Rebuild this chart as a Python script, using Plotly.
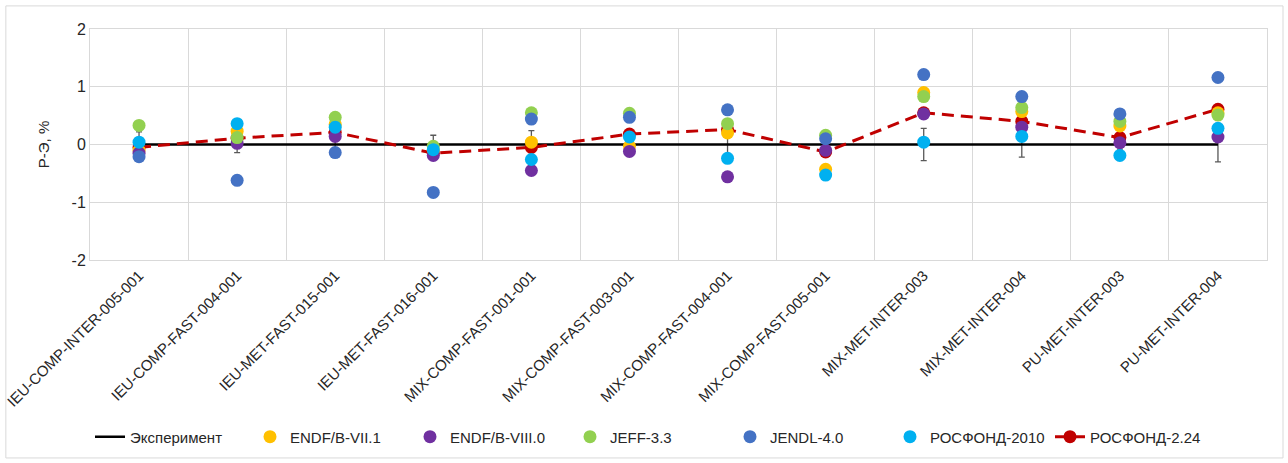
import plotly.graph_objects as go

categories = ["IEU-COMP-INTER-005-001", "IEU-COMP-FAST-004-001", "IEU-MET-FAST-015-001",
              "IEU-MET-FAST-016-001", "MIX-COMP-FAST-001-001", "MIX-COMP-FAST-003-001",
              "MIX-COMP-FAST-004-001", "MIX-COMP-FAST-005-001", "MIX-MET-INTER-003",
              "MIX-MET-INTER-004", "PU-MET-INTER-003", "PU-MET-INTER-004"]

experiment = [0, 0, 0, 0, 0, 0, 0, 0, 0, 0, 0, 0]
exp_error = [0.22, 0.14, 0.08, 0.16, 0.24, 0.08, 0.20, 0.08, 0.28, 0.22, 0.08, 0.30]
endf_b_vii_1 = [-0.10, 0.23, 0.35, -0.10, 0.04, -0.03, 0.20, -0.43, 0.90, 0.57, 0.32, 0.55]
endf_b_viii_0 = [-0.15, 0.02, 0.14, -0.19, -0.45, -0.12, -0.56, -0.10, 0.53, 0.30, 0.03, 0.13]
jeff_3_3 = [0.33, 0.12, 0.47, -0.03, 0.55, 0.54, 0.36, 0.16, 0.83, 0.64, 0.40, 0.51]
jendl_4_0 = [-0.21, -0.62, -0.14, -0.83, 0.44, 0.47, 0.60, 0.10, 1.21, 0.83, 0.53, 1.16]
rosfond_2010 = [0.04, 0.36, 0.30, -0.09, -0.26, 0.13, -0.24, -0.53, 0.04, 0.14, -0.19, 0.28]
rosfond_2_24 = [-0.05, 0.11, 0.21, -0.15, -0.05, 0.18, 0.26, -0.13, 0.55, 0.40, 0.12, 0.61]

y_ticks = [-2, -1, 0, 1, 2]

FONT = "Liberation Sans"
fig = go.Figure()

fig.add_trace(go.Scatter(
    x=categories, y=experiment, mode="lines", name="Эксперимент",
    line=dict(color="black", width=2.5), legendrank=1,
    error_y=dict(type="data", array=exp_error, visible=True, color="#595959",
                 thickness=1.3, width=3)))

fig.add_trace(go.Scatter(
    x=categories, y=rosfond_2_24, mode="lines+markers", name="РОСФОНД-2.24",
    line=dict(color="#C00000", width=3, dash="12px,7px"),
    marker=dict(color="#C00000", size=13), legendrank=7))

series = [
    ("ENDF/B-VII.1", endf_b_vii_1, "#FFC000", 2),
    ("ENDF/B-VIII.0", endf_b_viii_0, "#7030A0", 3),
    ("JEFF-3.3", jeff_3_3, "#92D050", 4),
    ("JENDL-4.0", jendl_4_0, "#4472C4", 5),
    ("РОСФОНД-2010", rosfond_2010, "#00B0F0", 6),
]
for name, vals, color, rank in series:
    fig.add_trace(go.Scatter(
        x=categories, y=vals, mode="markers", name=name,
        marker=dict(color=color, size=13), legendrank=rank))

fig.update_layout(
    width=1288, height=463,
    margin=dict(l=90, r=21, t=29, b=203, autoexpand=False),
    paper_bgcolor="white", plot_bgcolor="white",
    font=dict(family=FONT, size=15, color="#262626"),
    showlegend=True,
    legend=dict(orientation="h", x=0.0, xanchor="left", y=-0.766, yanchor="middle",
                font=dict(size=15, family=FONT), itemwidth=30, entrywidth=115),
)

fig.update_xaxes(
    type="category", tickangle=-45, tickson="boundaries", ticks="",
    showgrid=True, gridcolor="#D9D9D9", gridwidth=1, automargin=False,
    showline=True, linecolor="#D9D9D9", mirror=True,
    tickfont=dict(size=15, family=FONT, color="#262626"),
    range=[-0.5, len(categories) - 0.5],
)
fig.update_yaxes(
    range=[-2, 2], tickvals=y_ticks, ticktext=[str(v) for v in y_ticks],
    showgrid=True, gridcolor="#D9D9D9", gridwidth=1, zeroline=False, automargin=False,
    showline=True, linecolor="#D9D9D9", mirror=True, ticks="", ticklen=0,
    title=dict(text="Р-Э, %", font=dict(size=15, family=FONT), standoff=18),
    tickfont=dict(size=16, family=FONT, color="#262626"),
)

# outer chart border
fig.add_shape(type="rect", xref="paper", yref="paper",
              x0=-0.0715, x1=1.0136, y0=-0.857, y1=1.10,
              line=dict(color="#D9D9D9", width=1), layer="below")

fig.write_html("out.html", config={"displayModeBar": False},
               post_script="document.body.style.margin='0px';")
